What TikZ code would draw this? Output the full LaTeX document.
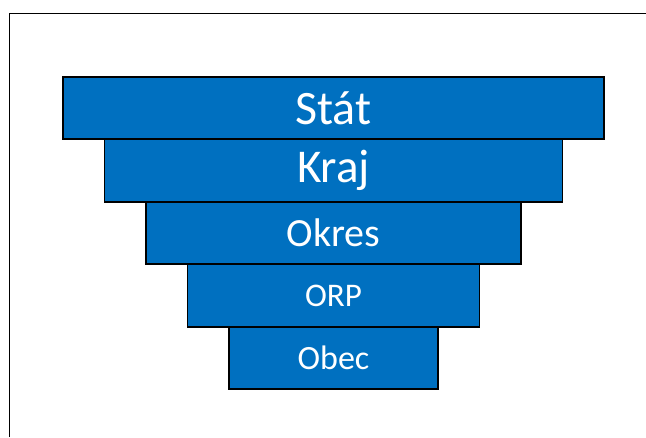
\documentclass[tikz,border=0pt]{standalone}
\usepackage{fontspec}
\setmainfont{Carlito}
\definecolor{barblue}{HTML}{0070C0}
\begin{document}
\begin{tikzpicture}[x=1pt,y=-1pt,
  bar/.style={draw=black,line width=1.6pt,fill=barblue,text=white,inner sep=0pt,minimum height=62.5pt,anchor=center}]
\useasboundingbox (0,0) rectangle (646,437);
\coordinate (fb) at (9.5,437);
\coordinate (fc) at (9.5,13.5);
\coordinate (fr) at (646,13.5);
\draw[line width=1.5pt,black] (fb) -- (fc) -- (fr);
\node[bar,minimum width=541pt] (stat) at (333.5,108) {\fontsize{48}{52}\selectfont Stát};
\node[bar,minimum width=458pt] (kraj) at (333.5,170.5) {\fontsize{47}{52}\selectfont Kraj};
\node[bar,minimum width=375pt] (okres) at (333.5,233) {\fontsize{40}{44}\selectfont Okres};
\node[bar,minimum width=292pt] (orp) at (333.5,295.5) {\fontsize{33}{36}\selectfont ORP};
\node[bar,minimum width=209pt] (obec) at (333.5,358) {\fontsize{34}{38}\selectfont Obec};
\end{tikzpicture}
\end{document}
